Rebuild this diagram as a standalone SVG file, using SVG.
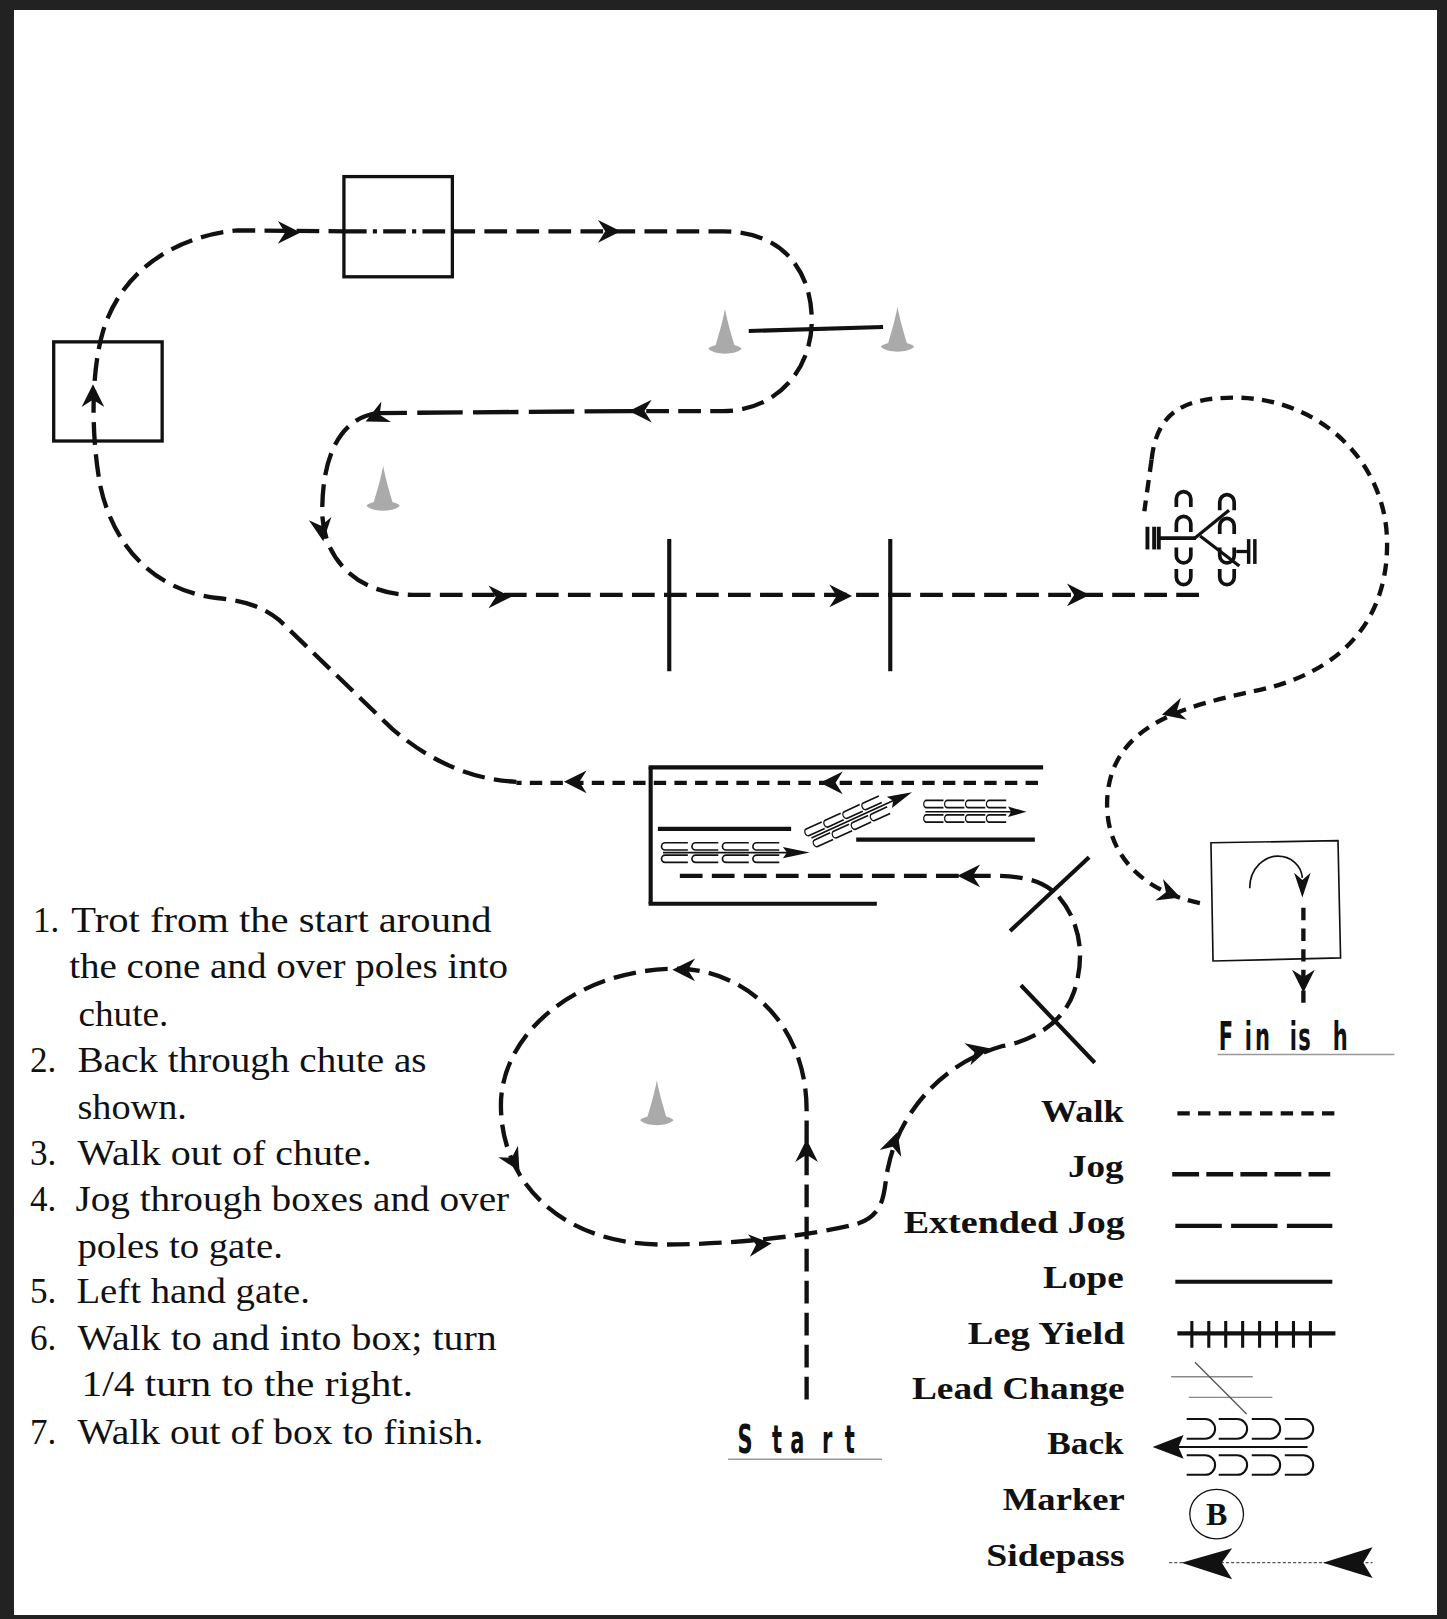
<svg xmlns="http://www.w3.org/2000/svg" xmlns:xlink="http://www.w3.org/1999/xlink" width="1447" height="1619" viewBox="0 0 1447 1619">
<style>
.p{fill:none;stroke:#111;stroke-width:4.2}
.walk{stroke-dasharray:12 8}
.jog{stroke-dasharray:22 9}
.xjog{stroke-dasharray:44 10}
.dd{stroke-dasharray:22 6 4 6}
.sol{fill:none;stroke:#111;stroke-width:4}
.box{fill:none;stroke:#111;stroke-width:3.2}
.thin{fill:none;stroke:#111;stroke-width:1.6}
.ah{fill:#111}
.cone{fill:#aaaaaa}
.ins{font-family:"Liberation Serif",serif;font-size:34px;fill:#111}
.lg{font-family:"Liberation Serif",serif;font-size:30px;font-weight:bold;fill:#111;text-anchor:end}
.sf{font-family:"DejaVu Sans",sans-serif;font-weight:bold;font-size:37px;fill:#111}
.ul{stroke:#999;stroke-width:1.5}
</style>
<defs>
<path id="ah" d="M0,0 L-22,-11 L-15,0 L-22,11 Z"/>
<path id="cone" d="M0,0 C2,12 7,28 9,35 C12,36 16,37 16,39 C10,45 -10,45 -16,39 C-16,37 -12,36 -9,35 C-7,28 -2,12 0,0 Z"/>
<path id="bc" d="M26,0 H4 A3.5,3.5 0 0 0 4,7 H26" fill="none" stroke="#111" stroke-width="1.6"/>
<path id="bl" d="M0,0 H18 A9.5,9.5 0 0 1 18,19 H0" fill="none" stroke="#111" stroke-width="2"/>
<path id="nn" d="M0,15 V7 A7,7 0 0 1 14,7 V15" fill="none" stroke="#111" stroke-width="3.6"/>
<path id="uu" d="M0,0 V8 A7,7 0 0 0 14,8 V0" fill="none" stroke="#111" stroke-width="3.6"/>
</defs>
<rect x="0" y="0" width="1447" height="1619" fill="#222"/>
<rect x="14" y="10" width="1423" height="1605" fill="#fff"/>
<g transform="scale(1.0328)">
<g id="cones">
<use xlink:href="#cone" href="#cone" class="cone" transform="translate(702,299)"/>
<use xlink:href="#cone" href="#cone" class="cone" transform="translate(869,297)"/>
<use xlink:href="#cone" href="#cone" class="cone" transform="translate(371,451)"/>
<use xlink:href="#cone" href="#cone" class="cone" transform="translate(636,1046)"/>
</g>
<g id="box1"><rect class="box" x="52" y="331" width="105" height="96"/></g>
<g id="box2"><rect class="box" x="333" y="171" width="105" height="97"/></g>
<g id="gate"><line class="sol" x1="725" y1="320.5" x2="855" y2="316.6"/></g>
<g id="poles">
<line class="sol" x1="648" y1="522" x2="648" y2="650"/>
<line class="sol" x1="862" y1="522" x2="862" y2="650"/>
<line class="sol" x1="978" y1="901.5" x2="1054.5" y2="830"/>
<line class="sol" x1="988.5" y1="954" x2="1060" y2="1029"/>
</g>
<g id="chute">
<line class="sol" x1="628" y1="743" x2="1010" y2="743"/>
<line class="sol" x1="630" y1="743" x2="630" y2="875"/>
<line class="sol" x1="628" y1="875" x2="849" y2="875"/>
<line class="sol" x1="637" y1="802.5" x2="766" y2="802.5"/>
<line class="sol" x1="829" y1="813" x2="1002" y2="813"/>
</g>
<g id="finishbox">
<polygon class="thin" points="1172.5,816 1295.5,814 1298,927.5 1174.5,930.5"/>
<path class="thin" d="M1210,860 C1210,840 1225,829 1237,829 C1250,829 1260,838 1261,850"/>
<polygon class="ah" points="1261,869 1253,845 1261,852 1269,845"/>
</g>
<g id="connectors">
<path class="p jog" d="M500,757 C460,755 420,740 380,706 L270,600 C250,585 235,582 210,579 C150,572 110,530 97,470 C88,420 88,360 100,320 C115,270 160,230 230,223 L333,224"/>
<path class="p dd" d="M333,224 L438,224"/>
<path class="p jog" d="M438,224 L700,224 C760,224 786,265 786,310 C786,360 750,398 700,398 L610,398"/>
<path class="p xjog" d="M610,398 L365,400"/>
<path class="p jog" d="M365,400 C330,405 312,440 312,495 C312,540 345,576 400,576 L1162,576"/>
<path class="p walk" d="M1005,758 L500,758"/>
<path class="p jog" d="M781,1355 L781,1075 C781,990 720,938 655,938 C560,938 485,1000 485,1070 C485,1150 550,1205 640,1205 C720,1205 790,1195 830,1185 C860,1175 855,1150 860,1130 C870,1080 910,1030 970,1013 C1000,1008 1030,990 1040,960 C1050,930 1048,895 1025,868 C1010,852 990,848 960,848 L650,848"/>
<path class="p walk" d="M1115,445 L1108,495"/>
<path class="p walk" d="M1115,445 C1120,400 1145,385 1195,385 C1280,385 1345,450 1343,530 C1342,600 1300,650 1220,668 C1150,683 1075,700 1072,775 C1070,830 1110,865 1165,875"/>
<path class="p walk" d="M1262,879 L1262,975"/>
<use xlink:href="#ah" href="#ah" class="ah" transform="translate(291,225)"/>
<use xlink:href="#ah" href="#ah" class="ah" transform="translate(601,224)"/>
<use xlink:href="#ah" href="#ah" class="ah" transform="translate(90,372) rotate(-90)"/>
<use xlink:href="#ah" href="#ah" class="ah" transform="translate(609,398) rotate(180)"/>
<use xlink:href="#ah" href="#ah" class="ah" transform="translate(354,408) rotate(155)"/>
<use xlink:href="#ah" href="#ah" class="ah" transform="translate(313,524) rotate(82)"/>
<use xlink:href="#ah" href="#ah" class="ah" transform="translate(495,578)"/>
<use xlink:href="#ah" href="#ah" class="ah" transform="translate(825,577)"/>
<use xlink:href="#ah" href="#ah" class="ah" transform="translate(1055,576)"/>
<use xlink:href="#ah" href="#ah" class="ah" transform="translate(794,758) rotate(180)"/>
<use xlink:href="#ah" href="#ah" class="ah" transform="translate(546,757) rotate(180)"/>
<use xlink:href="#ah" href="#ah" class="ah" transform="translate(927,848) rotate(180)"/>
<use xlink:href="#ah" href="#ah" class="ah" transform="translate(651,939) rotate(180)"/>
<use xlink:href="#ah" href="#ah" class="ah" transform="translate(503,1134) rotate(60)"/>
<use xlink:href="#ah" href="#ah" class="ah" transform="translate(747,1204) rotate(-5)"/>
<use xlink:href="#ah" href="#ah" class="ah" transform="translate(869,1096) rotate(-72)"/>
<use xlink:href="#ah" href="#ah" class="ah" transform="translate(958,1015) rotate(-15)"/>
<use xlink:href="#ah" href="#ah" class="ah" transform="translate(781,1103) rotate(-90)"/>
<use xlink:href="#ah" href="#ah" class="ah" transform="translate(1125,692) rotate(165)"/>
<use xlink:href="#ah" href="#ah" class="ah" transform="translate(1143,869) rotate(20)"/>
<use xlink:href="#ah" href="#ah" class="ah" transform="translate(1262,961) rotate(90)"/>
</g>
<g id="back-left" transform="translate(640,816)">
<use xlink:href="#bc" href="#bc" x="0" y="0"/><use xlink:href="#bc" href="#bc" x="29.5" y="0"/><use xlink:href="#bc" href="#bc" x="59" y="0"/><use xlink:href="#bc" href="#bc" x="88.5" y="0"/>
<use xlink:href="#bc" href="#bc" x="0" y="12"/><use xlink:href="#bc" href="#bc" x="29.5" y="12"/><use xlink:href="#bc" href="#bc" x="59" y="12"/><use xlink:href="#bc" href="#bc" x="88.5" y="12"/>
<line x1="2" y1="9.5" x2="130" y2="9.5" stroke="#111" stroke-width="1.6"/>
<polygon class="ah" points="144,9.5 118,4 122,9.5 118,15"/>
</g>
<g id="back-diag" transform="translate(782,813) rotate(-24.5)">
<g transform="scale(0.75,1)">
<use xlink:href="#bc" href="#bc" x="0" y="-10"/><use xlink:href="#bc" href="#bc" x="27" y="-10"/><use xlink:href="#bc" href="#bc" x="54" y="-10"/><use xlink:href="#bc" href="#bc" x="81" y="-10"/>
<use xlink:href="#bc" href="#bc" x="4" y="3"/><use xlink:href="#bc" href="#bc" x="31" y="3"/><use xlink:href="#bc" href="#bc" x="58" y="3"/><use xlink:href="#bc" href="#bc" x="85" y="3"/>
</g>
<line x1="4" y1="0" x2="96" y2="0" stroke="#111" stroke-width="1.6"/>
<polygon class="ah" points="111,0 87,-6 91,0 87,6"/>
</g>
<g id="back-right" transform="translate(894,775)">
<g transform="scale(0.75,1)">
<use xlink:href="#bc" href="#bc" x="0" y="0"/><use xlink:href="#bc" href="#bc" x="27" y="0"/><use xlink:href="#bc" href="#bc" x="54" y="0"/><use xlink:href="#bc" href="#bc" x="81" y="0"/>
<use xlink:href="#bc" href="#bc" x="0" y="14"/><use xlink:href="#bc" href="#bc" x="27" y="14"/><use xlink:href="#bc" href="#bc" x="54" y="14"/><use xlink:href="#bc" href="#bc" x="81" y="14"/>
</g>
<line x1="2" y1="11" x2="88" y2="11" stroke="#111" stroke-width="1.6"/>
<polygon class="ah" points="100,11 82,6 85,11 82,16"/>
</g>
<g id="legyield-lead" fill="none" stroke="#111">
<line x1="1111" y1="510" x2="1111" y2="532" stroke-width="3.8"/>
<line x1="1117.5" y1="510" x2="1117.5" y2="532" stroke-width="3.8"/>
<line x1="1122" y1="510" x2="1122" y2="532" stroke-width="3.8"/>
<line x1="1122" y1="521" x2="1158" y2="521" stroke-width="3.8"/>
<line x1="1157" y1="521" x2="1190" y2="494" stroke-width="3.2"/>
<line x1="1162" y1="519" x2="1200" y2="548" stroke-width="3.2"/>
<line x1="1209" y1="522" x2="1209" y2="546" stroke-width="3.4"/>
<line x1="1215" y1="522" x2="1215" y2="546" stroke-width="3.4"/>
<line x1="1197" y1="534" x2="1209" y2="534" stroke-width="3.2"/>
<use xlink:href="#nn" href="#nn" x="1139" y="476"/>
<use xlink:href="#nn" href="#nn" x="1139" y="500"/>
<use xlink:href="#uu" href="#uu" x="1139" y="530"/>
<use xlink:href="#uu" href="#uu" x="1139" y="551"/>
<use xlink:href="#nn" href="#nn" x="1181" y="479"/>
<use xlink:href="#nn" href="#nn" x="1181" y="502"/>
<use xlink:href="#uu" href="#uu" x="1181" y="530"/>
<use xlink:href="#uu" href="#uu" x="1181" y="551"/>
</g>
<g id="start">
<text class="sf" transform="translate(714,1407) scale(0.55,1)" x="0 61 93 149 189">Start</text>
<line class="ul" x1="705" y1="1413" x2="854" y2="1413"/>
</g>
<g id="finish">
<text class="sf" transform="translate(1180,1017) scale(0.55,1)" x="0 46 64 125 140 201">Finish</text>
<line class="ul" x1="1179" y1="1021" x2="1350" y2="1021"/>
</g>
<g id="instructions">
<text class="ins" x="32" y="902">1.</text>
<text class="ins" x="69" y="902" textLength="407" lengthAdjust="spacingAndGlyphs">Trot from the start around</text>
<text class="ins" x="67" y="947" textLength="425" lengthAdjust="spacingAndGlyphs">the cone and over poles into</text>
<text class="ins" x="76" y="993" textLength="87" lengthAdjust="spacingAndGlyphs">chute.</text>
<text class="ins" x="29" y="1038">2.</text>
<text class="ins" x="75" y="1038" textLength="338" lengthAdjust="spacingAndGlyphs">Back through chute as</text>
<text class="ins" x="75" y="1083" textLength="106" lengthAdjust="spacingAndGlyphs">shown.</text>
<text class="ins" x="29" y="1128">3.</text>
<text class="ins" x="75" y="1128" textLength="285" lengthAdjust="spacingAndGlyphs">Walk out of  chute.</text>
<text class="ins" x="29" y="1173">4.</text>
<text class="ins" x="73" y="1173" textLength="420" lengthAdjust="spacingAndGlyphs">Jog through boxes and over</text>
<text class="ins" x="75" y="1218" textLength="199" lengthAdjust="spacingAndGlyphs">poles to gate.</text>
<text class="ins" x="29" y="1262">5.</text>
<text class="ins" x="74" y="1262" textLength="226" lengthAdjust="spacingAndGlyphs">Left hand gate.</text>
<text class="ins" x="29" y="1307">6.</text>
<text class="ins" x="75" y="1307" textLength="406" lengthAdjust="spacingAndGlyphs">Walk to and into box; turn</text>
<text class="ins" x="79" y="1352" textLength="321" lengthAdjust="spacingAndGlyphs">1/4 turn to the right.</text>
<text class="ins" x="29" y="1398">7.</text>
<text class="ins" x="75" y="1398" textLength="393" lengthAdjust="spacingAndGlyphs">Walk out of  box to finish.</text>
</g>
<g id="legend">
<text class="lg" x="1088" y="1086" textLength="80" lengthAdjust="spacingAndGlyphs">Walk</text>
<text class="lg" x="1088" y="1140" textLength="54" lengthAdjust="spacingAndGlyphs">Jog</text>
<text class="lg" x="1089" y="1194" textLength="214" lengthAdjust="spacingAndGlyphs">Extended Jog</text>
<text class="lg" x="1088" y="1247" textLength="78" lengthAdjust="spacingAndGlyphs">Lope</text>
<text class="lg" x="1089" y="1301" textLength="152" lengthAdjust="spacingAndGlyphs">Leg Yield</text>
<text class="lg" x="1089" y="1355" textLength="206" lengthAdjust="spacingAndGlyphs">Lead Change</text>
<text class="lg" x="1088" y="1408" textLength="74" lengthAdjust="spacingAndGlyphs">Back</text>
<text class="lg" x="1089" y="1462" textLength="118" lengthAdjust="spacingAndGlyphs">Marker</text>
<text class="lg" x="1089" y="1516" textLength="134" lengthAdjust="spacingAndGlyphs">Sidepass</text>
<line class="p walk" x1="1140" y1="1078" x2="1294" y2="1078"/>
<line class="p" style="stroke-dasharray:26 7" x1="1135" y1="1137" x2="1288" y2="1137"/>
<line class="p xjog" style="stroke-dasharray:45 9" x1="1138" y1="1187" x2="1290" y2="1187"/>
<line class="sol" x1="1138" y1="1241" x2="1290" y2="1241"/>
<line class="sol" stroke-width="3" x1="1140" y1="1291" x2="1293" y2="1291"/>
<path fill="none" stroke="#111" stroke-width="3" d="M1154,1279V1305M1170.4,1279V1305M1186.8,1279V1305M1203.2,1279V1305M1219.6,1279V1305M1236,1279V1305M1252.4,1279V1305M1268.8,1279V1305"/>
<line x1="1134" y1="1333" x2="1213" y2="1333" stroke="#888" stroke-width="1.3"/>
<line x1="1151" y1="1353" x2="1232" y2="1353" stroke="#888" stroke-width="1.3"/>
<line x1="1157" y1="1319" x2="1207" y2="1369" stroke="#555" stroke-width="1.3"/>
<use xlink:href="#bl" href="#bl" x="1149" y="1374"/><use xlink:href="#bl" href="#bl" x="1180" y="1374"/><use xlink:href="#bl" href="#bl" x="1212" y="1374"/><use xlink:href="#bl" href="#bl" x="1244" y="1374"/>
<use xlink:href="#bl" href="#bl" x="1149" y="1409"/><use xlink:href="#bl" href="#bl" x="1180" y="1409"/><use xlink:href="#bl" href="#bl" x="1212" y="1409"/><use xlink:href="#bl" href="#bl" x="1244" y="1409"/>
<line x1="1138" y1="1401" x2="1266" y2="1401" stroke="#111" stroke-width="2"/>
<polygon class="ah" points="1116,1401 1146,1389.5 1141,1401 1146,1412.5"/>
<ellipse cx="1178" cy="1466" rx="26" ry="24" fill="none" stroke="#111" stroke-width="1.3"/>
<text x="1178" y="1477" font-family="Liberation Serif, serif" font-size="31" font-weight="bold" text-anchor="middle" fill="#111">B</text>
<line x1="1132" y1="1513" x2="1329" y2="1513" stroke="#555" stroke-width="1" stroke-dasharray="3 2"/>
<polygon class="ah" points="1144,1513 1193,1499 1183,1513 1193,1529"/>
<polygon class="ah" points="1281,1513 1329,1498 1320,1513 1329,1528"/>
</g>
</g>
</svg>
